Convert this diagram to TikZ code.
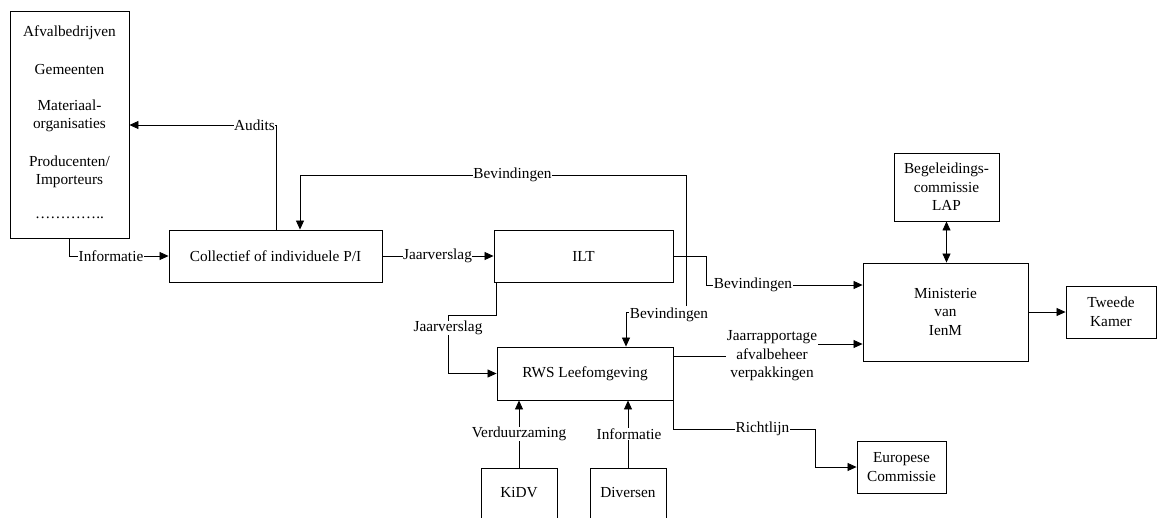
\documentclass[tikz,border=0pt]{standalone}
\usepackage{fontspec}
\IfFontExistsTF{LiberationSerif-Regular.ttf}
 {\setmainfont{LiberationSerif-Regular.ttf}}
 {\IfFontExistsTF{Liberation Serif}{\setmainfont{Liberation Serif}}{\setmainfont{DejaVu Serif}}}
\usetikzlibrary{arrows.meta}
\begin{document}
\begin{tikzpicture}[x=1pt,y=-1pt,
 font=\rmfamily\fontsize{15.3}{18.5}\selectfont,
 box/.style={draw, line width=0.9pt, inner sep=0pt, align=center},
 conn/.style={line width=0.8pt},
 arr/.style={conn, -{Triangle[length=9pt,width=8pt]}},
 darr/.style={conn, {Triangle[length=9pt,width=8pt]}-{Triangle[length=9pt,width=8pt]}},
 lbl/.style={fill=white, inner sep=0.5pt, align=center},
 txt/.style={inner sep=0pt, align=center}]
\useasboundingbox (0,0) rectangle (1164,517);
\clip (0,0) rectangle (1164,517);

% boxes
\node[box, minimum width=119pt, minimum height=227pt] (src) at (69.5,124.5) {};
\node[txt] (s1) at (69.5,33) {Afvalbedrijven};
\node[txt] (s2) at (69.5,70) {Gemeenten};
\node[txt] (s3) at (69.5,116) {Materiaal-\\organisaties};
\node[txt] (s4) at (69.5,172) {Producenten/\\Importeurs};
\node[txt] (s5) at (69.5,218) {…………..};

\node[box, minimum width=213pt, minimum height=52pt] (coll) at (275.5,256) {Collectief of individuele P/I};
\node[box, minimum width=179pt, minimum height=52pt] (ilt) at (583.5,256) {ILT};
\node[box, minimum width=176pt, minimum height=53pt] (rws) at (585,373.5) {RWS Leefomgeving};
\node[box, minimum width=76pt, minimum height=100pt, anchor=north] (kidv) at (519,468) {};
\node[txt] (kidvt) at (519,493) {KiDV};
\node[box, minimum width=76pt, minimum height=100pt, anchor=north] (div) at (628,468) {};
\node[txt] (divt) at (628,493) {Diversen};
\node[box, minimum width=105pt, minimum height=68pt] (beg) at (946.5,187) {Begeleidings-\\commissie\\LAP};
\node[box, minimum width=165pt, minimum height=98pt] (min) at (945.5,312) {Ministerie\\van\\IenM};
\node[box, minimum width=90pt, minimum height=52pt] (tk) at (1111,312) {Tweede\\Kamer};
\node[box, minimum width=89pt, minimum height=52pt] (eu) at (901.5,467) {Europese\\Commissie};

% connectors
\coordinate (aud) at (276,125);
\draw[arr] (aud |- coll.north) -- (aud) -- (aud -| src.east);
\draw[arr] (src.south) |- (coll.west);
\draw[arr] (coll.east) -- (ilt.west);
\coordinate (fbend) at (686,306);
\coordinate (fb1) at (300,175);
\coordinate (fb2) at (686,175);
\draw[arr] (fbend) -- (fb2) -- (fb1) -- (fb1 |- coll.north);
\coordinate (bvs) at (630,312);
\draw[arr] (bvs) -| ([xshift=41pt]rws.north);
\coordinate (b3) at (706,285);
\draw[arr] (ilt.east) -| (b3) -- (b3 -| min.west);
\coordinate (j1) at (448,315);
\draw[arr] ([xshift=3pt]ilt.south west) |- (j1) |- (rws.west);
\coordinate (jr) at (773,344);
\draw[arr] ([yshift=17.5pt]rws.east) -| (jr) -- (jr -| min.west);
\coordinate (r1) at (815,429);
\draw[arr] (rws.south east) |- (r1) |- (eu.west);
\draw[darr] (beg.south) -- (beg.south |- min.north);
\draw[arr] (min.east) -- (tk.west);
\draw[arr] (kidv.north) -- (kidv.north |- rws.south);
\draw[arr] (div.north) -- (div.north |- rws.south);

% labels
\node[lbl] (la) at (254.5,125) {Audits};
\node[lbl] (li) at (111,256) {Informatie};
\node[lbl] (lj1) at (437.5,256) {Jaarverslag};
\node[lbl] (lb1) at (512.5,175) {Bevindingen};
\node[lbl] (bv2) at (669,315) {Bevindingen};
\node[lbl] (lb3) at (753,285) {Bevindingen};
\node[lbl] (lj2) at (448,328) {Jaarverslag};
\node[lbl] (ljr) at (772,356) {Jaarrapportage\\afvalbeheer\\verpakkingen};
\node[lbl] (lr) at (762.5,429) {Richtlijn};
\node[lbl] (lv) at (519,434) {Verduurzaming};
\node[lbl] (lin) at (629,434) {Informatie};
\end{tikzpicture}
\end{document}
